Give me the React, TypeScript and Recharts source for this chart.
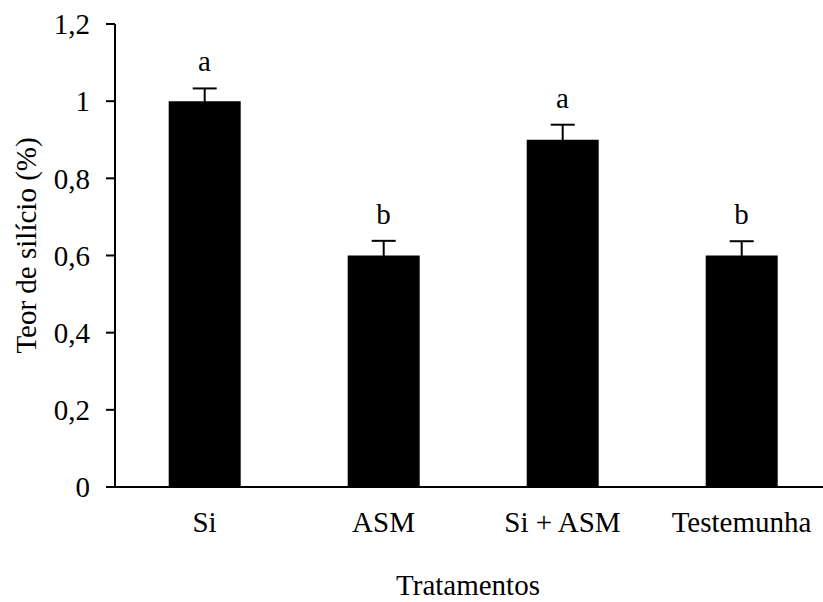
import React from 'react';
import { ComposedChart, Bar, Line, XAxis, YAxis, ErrorBar, LabelList } from 'recharts';

const treatments = ['Si', 'ASM', 'Si + ASM', 'Testemunha'];
const siliconContent = [1.0, 0.6, 0.9, 0.6];
const stdErrors = [0.033, 0.038, 0.039, 0.037];
const letters = ['a', 'b', 'a', 'b'];
const yTicks = [0, 0.2, 0.4, 0.6, 0.8, 1, 1.2];

const FONT = '"Liberation Serif", "Times New Roman", serif';
const FS = 29;

// lower part of the error bar is hidden inside the bar, only the upper whisker shows
const data = treatments.map((t, i) => ({
  name: t,
  value: siliconContent[i],
  err: [0.005, stdErrors[i]],
  top: siliconContent[i] + stdErrors[i],
  letter: letters[i],
}));

const fmt = (v: number) => String(v).replace('.', ',');

export default function App() {
  return (
    <div style={{ position: 'absolute', left: 0, top: 0, background: '#fff' }}>
      <ComposedChart width={823} height={602} data={data} margin={{ top: 24, right: -8, left: 0, bottom: 15 }} barCategoryGap="30%">
        <XAxis dataKey="name" height={100} tickLine={false} tickSize={0} tickMargin={24}
          axisLine={{ stroke: '#000', strokeWidth: 2 }}
          tick={{ fill: '#000', fontSize: FS, fontFamily: FONT }}
          label={{
            content: ({ viewBox }: any) => (
              <text x={viewBox.x + viewBox.width / 2 - 5} y={595} textAnchor="middle" fill="#000" fontSize={FS} fontFamily={FONT}>
                Tratamentos
              </text>
            ),
          }} />
        <YAxis width={115} domain={[0, 1.2]} ticks={yTicks} interval={0} tickFormatter={fmt}
          tickSize={9} tickMargin={16}
          axisLine={{ stroke: '#000', strokeWidth: 2 }}
          tickLine={{ stroke: '#000', strokeWidth: 2 }}
          tick={{ fill: '#000', fontSize: FS, fontFamily: FONT }}
          label={{
            content: ({ viewBox }: any) => {
              const cy = viewBox.y + viewBox.height / 2 - 10;
              return (
                <text x={36} y={cy} transform={`rotate(-90, 36, ${cy})`} textAnchor="middle" fill="#000" fontSize={FS} fontFamily={FONT}>
                  Teor de silício (%)
                </text>
              );
            },
          }} />
        <Bar dataKey="value" fill="#000" isAnimationActive={false}>
          <ErrorBar dataKey="err" width={12} stroke="#000" strokeWidth={2} direction="y" />
        </Bar>
        <Line dataKey="top" stroke="none" dot={false} activeDot={false} isAnimationActive={false}>
          <LabelList dataKey="letter" position="top" offset={17} fill="#000" fontSize={FS} fontFamily={FONT} />
        </Line>
      </ComposedChart>
    </div>
  );
}
